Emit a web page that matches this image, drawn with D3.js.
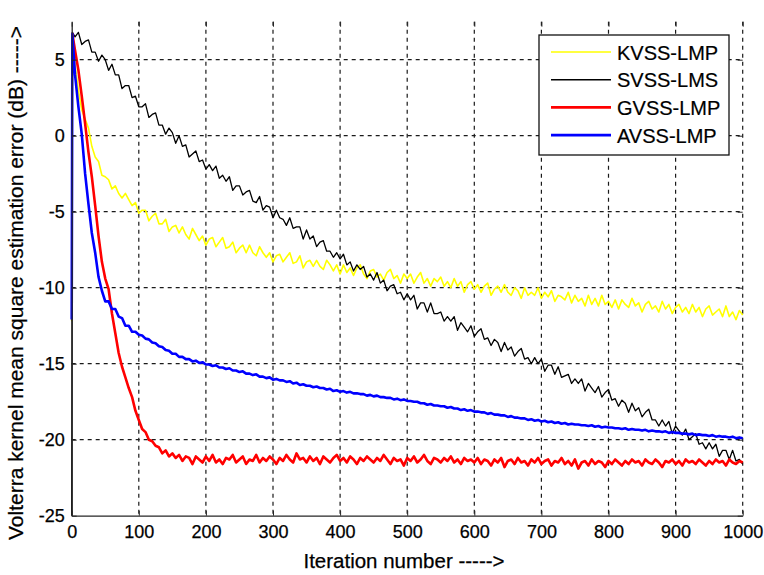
<!DOCTYPE html>
<html>
<head>
<meta charset="utf-8">
<script src="https://cdn.jsdelivr.net/npm/d3@7"></script>
<style>
  body { margin: 0; background: #fff; }
  svg { display: block; font-family: "Liberation Sans", Arial, sans-serif; }
</style>
</head>
<body>
<script>
// iteration index: 0, 1, then every 5th iteration up to 1000
var iterations = [0, 1].concat(d3.range(5, 1001, 5));

// KVSS-LMP (yellow)
var kvssLmp = [-12.2, 6.7,
  4.6, 3.0, 1.7, 1.1, 0.5, -0.7, -1.4, -1.7, -2.6, -2.7, -2.9, -3.5, -3.3, -3.8, -4.1, -3.8, -4.2, -4.6, -4.4, -5.1,
  -4.9, -4.9, -5.6, -5.3, -5.1, -5.8, -5.8, -5.5, -6.3, -6.0, -5.9, -6.4, -6.0, -6.5, -6.8, -6.1, -6.5, -6.9, -6.6, -7.2,
  -6.8, -6.7, -7.3, -7.0, -6.7, -7.4, -7.3, -7.0, -7.7, -7.4, -7.2, -7.7, -7.2, -7.7, -7.9, -7.3, -7.7, -8.0, -7.7, -8.3,
  -7.9, -7.8, -8.3, -8.0, -7.7, -8.4, -8.3, -7.9, -8.7, -8.3, -8.2, -8.6, -8.2, -8.6, -8.8, -8.2, -8.5, -8.9, -8.5, -9.1,
  -8.5, -9.0, -8.7, -9.2, -8.7, -8.5, -9.1, -9.4, -8.9, -8.8, -9.3, -9.1, -9.5, -9.0, -8.8, -9.4, -9.2, -9.7, -9.1, -9.4,
  -9.1, -9.7, -9.3, -9.0, -9.7, -9.4, -9.9, -9.4, -9.6, -9.3, -9.9, -9.6, -10.0, -9.4, -9.9, -9.6, -10.3, -9.8, -9.6, -10.1,
  -9.8, -10.3, -9.9, -9.7, -10.5, -10.1, -9.9, -10.3, -9.8, -10.3, -10.5, -10.0, -10.2, -10.7, -10.0, -10.5, -10.3, -10.5, -10.0, -10.7,
  -10.3, -10.6, -10.2, -10.9, -10.5, -10.6, -10.8, -10.3, -11.0, -10.5, -10.9, -10.7, -11.2, -10.5, -11.1, -10.7, -11.2, -10.5, -11.1, -10.9,
  -11.3, -10.8, -11.4, -10.8, -11.1, -11.3, -10.7, -11.2, -11.0, -11.6, -11.1, -10.9, -11.4, -11.2, -11.6, -10.9, -11.4, -11.1, -11.7, -11.3,
  -11.1, -11.6, -11.3, -11.7, -11.1, -11.6, -11.3, -11.9, -11.4, -11.2, -11.8, -11.6, -11.4, -11.9, -11.2, -11.9, -11.6, -12.1, -11.5, -11.8];

// SVSS-LMS (black)
var svssLms = [-27, 6.8,
  6.5, 6.8, 6.0, 6.2, 6.3, 5.5, 5.5, 4.9, 5.3, 5.0, 4.3, 4.7, 4.0, 4.0, 3.1, 3.3, 3.3, 2.5, 2.6, 1.9,
  1.9, 2.1, 1.2, 1.4, 1.5, 0.7, 0.7, 0.1, 0.5, 0.2, -0.5, 0.0, -0.7, -0.6, -1.4, -1.2, -1.0, -1.7, -1.6, -2.2,
  -1.9, -2.3, -2.0, -2.8, -2.6, -3.0, -2.7, -3.6, -3.3, -3.3, -3.9, -3.7, -3.6, -4.3, -4.4, -4.0, -4.9, -4.6, -4.7, -5.4,
  -4.9, -5.4, -5.5, -5.9, -5.4, -6.1, -6.0, -6.0, -6.8, -6.2, -6.8, -6.6, -7.3, -7.0, -6.9, -7.6, -7.6, -8.0, -7.7, -8.1,
  -7.8, -8.5, -8.3, -8.9, -8.5, -8.8, -8.6, -9.3, -9.1, -9.5, -9.0, -9.7, -9.5, -10.2, -9.9, -9.8, -10.4, -10.3, -10.8, -10.4,
  -10.8, -10.5, -11.4, -11.0, -11.0, -11.6, -11.0, -11.7, -11.7, -11.6, -12.2, -11.9, -12.2, -11.9, -12.8, -12.3, -12.6, -12.9, -12.5, -13.2,
  -12.9, -12.7, -13.4, -13.3, -13.8, -13.4, -13.6, -14.2, -13.6, -14.1, -13.9, -14.5, -14.2, -14.0, -14.7, -14.6, -15.0, -14.6, -15.0, -14.7,
  -15.5, -15.1, -15.1, -15.7, -15.2, -15.9, -15.8, -15.7, -16.3, -16.0, -16.3, -16.0, -16.8, -16.3, -16.6, -16.9, -16.5, -17.2, -16.9, -16.7,
  -17.4, -17.3, -17.8, -17.4, -17.6, -18.2, -17.6, -18.1, -17.9, -18.5, -18.2, -18.0, -18.7, -18.7, -19.1, -18.7, -19.1, -18.8, -19.6, -19.1,
  -19.4, -19.7, -19.3, -20.0, -19.8, -19.6, -20.3, -20.2, -20.6, -20.2, -20.6, -20.3, -21.1, -20.7, -20.7, -21.3, -20.7, -21.4, -21.3, -21.6];

// GVSS-LMP (red)
var gvssLmp = [6.7, 6.7,
  5.6, 4.3, 2.6, 0.8, -1.1, -2.7, -4.6, -6.6, -8.3, -9.4, -10.1, -11.7, -13.0, -14.3, -15.2, -15.9, -16.6, -17.2, -18.1, -18.7,
  -19.3, -19.5, -20.0, -20.1, -20.4, -20.5, -20.9, -20.7, -21.1, -20.9, -21.2, -21.0, -21.4, -21.1, -21.2, -21.6, -21.1, -21.3, -21.5, -21.1,
  -21.4, -21.0, -21.5, -21.3, -21.6, -21.2, -21.3, -21.0, -21.5, -21.3, -21.1, -21.6, -21.3, -21.4, -21.0, -21.5, -21.2, -21.4, -21.1, -21.3,
  -21.6, -21.2, -21.4, -21.0, -21.3, -21.5, -20.9, -21.3, -21.2, -21.5, -21.1, -21.4, -21.2, -21.6, -21.1, -21.3, -21.5, -21.2, -21.0, -21.4,
  -21.2, -21.5, -21.1, -21.3, -21.6, -21.2, -21.4, -21.1, -21.3, -21.5, -21.2, -21.4, -21.0, -21.3, -21.6, -21.2, -21.4, -21.3, -21.7, -21.2,
  -21.4, -21.1, -21.5, -21.3, -21.0, -21.4, -21.6, -21.2, -21.3, -21.5, -21.2, -21.4, -21.1, -21.5, -21.3, -21.6, -21.2, -21.4, -21.3, -21.5,
  -21.2, -21.6, -21.3, -21.4, -21.7, -21.3, -21.5, -21.2, -21.8, -21.4, -21.3, -21.6, -21.2, -21.5, -21.4, -21.7, -21.3, -21.5, -21.2, -21.6,
  -21.4, -21.3, -21.7, -21.4, -21.5, -21.2, -21.6, -21.4, -21.7, -21.3, -21.9, -21.5, -21.4, -21.7, -21.3, -21.6, -21.4, -21.5, -21.8, -21.4,
  -21.6, -21.3, -21.5, -21.7, -21.4, -21.6, -21.3, -21.5, -21.4, -21.7, -21.3, -21.5, -21.6, -21.3, -21.5, -21.8, -21.4, -21.5, -21.3, -21.6,
  -21.4, -21.7, -21.3, -21.5, -21.4, -21.6, -21.3, -21.5, -21.7, -21.4, -21.6, -21.3, -21.5, -21.4, -21.7, -21.3, -21.5, -21.6, -21.4, -21.5];

// AVSS-LMP (blue)
var avssLmp = [-12.1, 6.7,
  4.0, 1.9, 0.1, -2.5, -4.5, -6.4, -7.7, -9.3, -10.2, -10.9, -10.9, -11.4, -11.4, -11.9, -12.0, -12.5, -12.5, -12.9, -12.9, -13.1,
  -13.15, -13.35, -13.4, -13.6, -13.65, -13.85, -13.9, -14.1, -14.15, -14.35, -14.35, -14.55, -14.55, -14.7, -14.7, -14.85, -14.8, -14.95, -14.9, -15.05,
  -15.05, -15.15, -15.1, -15.25, -15.25, -15.35, -15.3, -15.45, -15.45, -15.55, -15.5, -15.65, -15.65, -15.75, -15.7, -15.85, -15.85, -15.95, -15.9, -16.05,
  -16.0, -16.1, -16.1, -16.2, -16.15, -16.3, -16.25, -16.4, -16.35, -16.45, -16.45, -16.55, -16.5, -16.6, -16.6, -16.7, -16.65, -16.8, -16.75, -16.85,
  -16.8, -16.9, -16.85, -16.95, -16.95, -17.0, -17.0, -17.1, -17.05, -17.15, -17.1, -17.2, -17.2, -17.25, -17.25, -17.35, -17.3, -17.4, -17.35, -17.45,
  -17.45, -17.5, -17.5, -17.6, -17.6, -17.7, -17.65, -17.75, -17.75, -17.8, -17.8, -17.9, -17.85, -17.95, -17.95, -18.05, -18.0, -18.1, -18.05, -18.15,
  -18.15, -18.2, -18.2, -18.3, -18.25, -18.35, -18.35, -18.4, -18.4, -18.5, -18.45, -18.55, -18.55, -18.6, -18.6, -18.7, -18.65, -18.75, -18.7, -18.8,
  -18.75, -18.85, -18.8, -18.9, -18.85, -18.95, -18.9, -19.0, -18.95, -19.0, -19.0, -19.05, -19.05, -19.1, -19.05, -19.15, -19.1, -19.2, -19.15, -19.2,
  -19.2, -19.25, -19.25, -19.3, -19.25, -19.35, -19.3, -19.35, -19.35, -19.4, -19.35, -19.45, -19.4, -19.45, -19.45, -19.5, -19.45, -19.55, -19.5, -19.55,
  -19.55, -19.6, -19.6, -19.65, -19.6, -19.7, -19.65, -19.7, -19.7, -19.75, -19.7, -19.8, -19.75, -19.8, -19.8, -19.85, -19.8, -19.9, -19.85, -19.9];

var seriesNames = ["KVSS-LMP", "SVSS-LMS", "GVSS-LMP", "AVSS-LMP"];
var seriesColors = ["#ffff00", "#000000", "#ff0000", "#0000ff"];
var seriesWidths = [1.6, 1.3, 2.6, 2.6];
var xTicks = [0, 100, 200, 300, 400, 500, 600, 700, 800, 900, 1000];
var yTicks = [-25, -20, -15, -10, -5, 0, 5];

var width = 764, height = 575;
var margin = {top: 21.7, right: 21.3, bottom: 59.3, left: 71.7};
var w = width - margin.left - margin.right;
var h = height - margin.top - margin.bottom;

var svg = d3.select("body").append("svg")
    .attr("width", width)
    .attr("height", height);

svg.append("rect").attr("width", width).attr("height", height).attr("fill", "#fff");

var g = svg.append("g")
    .attr("transform", "translate(" + margin.left + "," + margin.top + ")");

var xScale = d3.scaleLinear().domain([0, 1000]).range([0, w]);
var yScale = d3.scaleLinear().domain([-25, 7.5]).range([h, 0]);

// dashed grid
g.append("g").selectAll("line").data(xTicks.slice(1)).join("line")
    .attr("x1", function(d) { return xScale(d); })
    .attr("x2", function(d) { return xScale(d); })
    .attr("y1", 0).attr("y2", h)
    .attr("stroke", "#1a1a1a").attr("stroke-width", 1.2)
    .attr("stroke-dasharray", "4,4");

g.append("g").selectAll("line").data(yTicks.slice(1)).join("line")
    .attr("x1", 0).attr("x2", w)
    .attr("y1", function(d) { return yScale(d); })
    .attr("y2", function(d) { return yScale(d); })
    .attr("stroke", "#1a1a1a").attr("stroke-width", 1.2)
    .attr("stroke-dasharray", "4,4");

// curves
g.append("clipPath").attr("id", "plotclip")
  .append("rect").attr("x", -2).attr("y", 0).attr("width", w + 4).attr("height", h);

var line = d3.line()
    .x(function(d, i) { return xScale(iterations[i]); })
    .y(function(d) { return yScale(d); });

var allSeries = [kvssLmp, svssLms, gvssLmp, avssLmp];
var curves = g.append("g").attr("clip-path", "url(#plotclip)");
allSeries.forEach(function(s, k) {
  curves.append("path")
      .datum(s)
      .attr("d", line)
      .attr("fill", "none")
      .attr("stroke", seriesColors[k])
      .attr("stroke-width", seriesWidths[k])
      .attr("stroke-linejoin", "round");
});

// axes (ticks inside, like matlab)
var fmt = function(d) { return String(d); };

g.append("g")
    .attr("transform", "translate(0," + h + ")")
    .call(d3.axisBottom(xScale).tickValues(xTicks).tickFormat(fmt)
        .tickSizeInner(-5).tickSizeOuter(0).tickPadding(10));

g.append("g")
    .call(d3.axisLeft(yScale).tickValues(yTicks).tickFormat(fmt)
        .tickSizeInner(-5).tickSizeOuter(0).tickPadding(7));

g.append("g")
    .call(d3.axisTop(xScale).tickValues(xTicks).tickFormat("").tickSizeInner(-5).tickSizeOuter(0))
    .call(function(a) { a.select(".domain").remove(); });

g.append("g")
    .attr("transform", "translate(" + w + ",0)")
    .call(d3.axisRight(yScale).tickValues(yTicks).tickFormat("").tickSizeInner(-5).tickSizeOuter(0))
    .call(function(a) { a.select(".domain").remove(); });

g.selectAll(".domain").attr("stroke", "#262626").attr("stroke-width", 1.3);
g.selectAll(".tick line").attr("stroke", "#262626");
g.selectAll(".tick text")
    .style("font-family", "\"Liberation Sans\", Arial, sans-serif")
    .style("font-size", "18px")
    .attr("fill", "#000")
    .attr("stroke", "#000").attr("stroke-width", 0.25);

// axis labels
svg.append("text")
    .attr("x", 404).attr("y", 568)
    .style("font-size", "20.5px").attr("fill", "#000")
    .attr("stroke", "#000").attr("stroke-width", 0.25)
    .style("text-anchor", "middle")
    .text("Iteration number ----->");

svg.append("text")
    .attr("transform", "translate(23,283) rotate(-90)")
    .style("font-size", "21px").attr("fill", "#000")
    .attr("stroke", "#000").attr("stroke-width", 0.25)
    .style("text-anchor", "middle")
    .text("Volterra kernel mean square estimation error (dB) ----->");

// legend
var legend = svg.append("g").attr("transform", "translate(539,35)");
legend.append("rect")
    .attr("width", 190).attr("height", 120)
    .attr("fill", "#fff").attr("stroke", "#111").attr("stroke-width", 1.3);

seriesNames.forEach(function(name, k) {
  var yy = 17 + k * 27.7;
  legend.append("line")
      .attr("x1", 12).attr("x2", 72)
      .attr("y1", yy).attr("y2", yy)
      .attr("stroke", seriesColors[k])
      .attr("stroke-width", k < 2 ? 1.6 : 2.6);
  legend.append("text")
      .attr("x", 78).attr("y", yy + 7.5)
      .style("font-size", "20px").attr("fill", "#000")
      .attr("stroke", "#000").attr("stroke-width", 0.2)
      .text(name);
});
</script>
</body>
</html>
